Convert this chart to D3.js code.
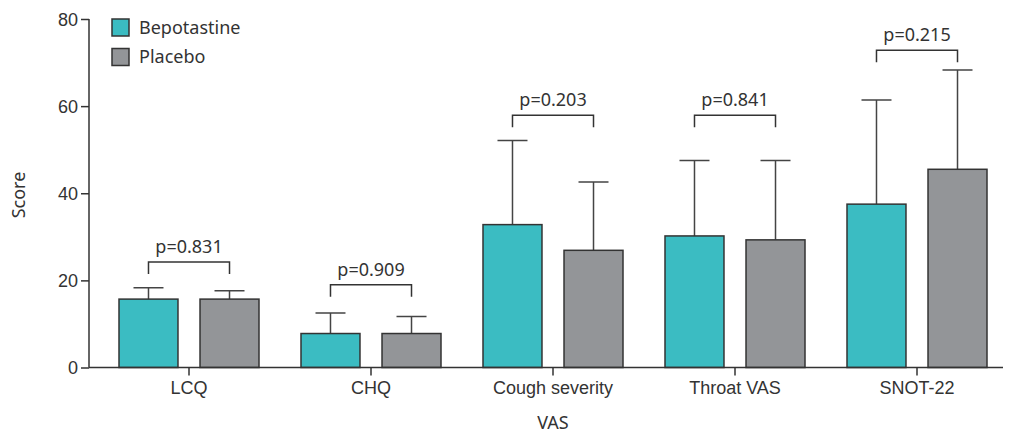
<!DOCTYPE html>
<html>
<head>
<meta charset="utf-8">
<script src="https://cdn.jsdelivr.net/npm/d3@7"></script>
<style>
  body { margin: 0; background: #fff; }
  svg { display: block; font-family: "Noto Sans", "Open Sans", sans-serif; }
</style>
</head>
<body>
<div id="chart"></div>
<script>
const categories = ['LCQ', 'CHQ', 'Cough severity', 'Throat VAS', 'SNOT-22'];
const groups = ['Bepotastine', 'Placebo'];
const bepotastineMean = [15.7, 7.8, 32.8, 30.2, 37.5];
const bepotastineSD = [2.6, 4.7, 19.3, 17.3, 23.9];
const placeboMean = [15.7, 7.8, 26.9, 29.3, 45.5];
const placeboSD = [1.9, 3.9, 15.7, 18.2, 22.8];
const pValues = ['p=0.831', 'p=0.909', 'p=0.203', 'p=0.841', 'p=0.215'];
const bracketLevel = [24.2, 19.0, 57.9, 57.9, 72.8];
const yTicks = [0, 20, 40, 60, 80];

const colors = { Bepotastine: '#3bbcc2', Placebo: '#939598' };
const ink = '#333333';

const width = 1009, height = 434;
const svg = d3.select('#chart').append('svg')
  .attr('width', width)
  .attr('height', height);

const y = d3.scaleLinear().domain([0, 80]).range([367.5, 19]);
const x = d3.scaleBand().domain(categories).range([98, 1008]);
const xs = d3.scaleBand().domain(groups).range([21, 161]).paddingInner(0.272);

const rows = categories.map((c, i) => ({
  cat: c,
  p: pValues[i],
  bracket: bracketLevel[i],
  bars: [
    { g: 'Bepotastine', mean: bepotastineMean[i], sd: bepotastineSD[i] },
    { g: 'Placebo', mean: placeboMean[i], sd: placeboSD[i] }
  ]
}));

// y axis
const yAxis = svg.append('g')
  .attr('transform', 'translate(89,0)')
  .call(d3.axisLeft(y).tickValues(yTicks).tickSize(8).tickSizeOuter(0).tickPadding(3));
yAxis.select('.domain').remove();
yAxis.selectAll('.tick line').attr('stroke', ink).attr('stroke-width', 1.5);
yAxis.selectAll('.tick text').attr('fill', ink).style('font-size', '18px').attr('dy', '0.34em');
svg.append('line')
  .attr('x1', 89).attr('x2', 89)
  .attr('y1', y(80)).attr('y2', y(0))
  .attr('stroke', ink).attr('stroke-width', 1.5);

// bars
const groupSel = svg.selectAll('g.cat')
  .data(rows)
  .enter().append('g')
  .attr('class', 'cat')
  .attr('transform', d => `translate(${x(d.cat)},0)`);

// error bars (upper only), drawn under the bars
groupSel.selectAll('path.err')
  .data(d => d.bars)
  .enter().append('path')
  .attr('class', 'err')
  .attr('fill', 'none')
  .attr('stroke', '#444')
  .attr('stroke-width', 1.5)
  .attr('d', d => {
    const cx = xs(d.g) + xs.bandwidth() / 2;
    const top = y(d.mean + d.sd);
    return `M${cx},${y(d.mean)}V${top}M${cx - 15},${top}H${cx + 15}`;
  });

groupSel.selectAll('rect')
  .data(d => d.bars)
  .enter().append('rect')
  .attr('x', d => xs(d.g))
  .attr('width', xs.bandwidth())
  .attr('y', d => y(d.mean))
  .attr('height', d => y(0) - y(d.mean))
  .attr('fill', d => colors[d.g])
  .attr('stroke', ink)
  .attr('stroke-width', 1.5);

// significance brackets
groupSel.append('path')
  .attr('fill', 'none')
  .attr('stroke', ink)
  .attr('stroke-width', 1.5)
  .attr('d', d => {
    const a = xs('Bepotastine') + xs.bandwidth() / 2;
    const b = xs('Placebo') + xs.bandwidth() / 2;
    const by = y(d.bracket);
    return `M${a},${by + 12}V${by}H${b}V${by + 12}`;
  });

groupSel.append('text')
  .attr('x', (xs('Bepotastine') + xs('Placebo') + xs.bandwidth()) / 2)
  .attr('y', d => y(d.bracket) - 9)
  .attr('text-anchor', 'middle')
  .attr('fill', ink)
  .style('font-size', '18px')
  .text(d => d.p);

// x axis
svg.append('line')
  .attr('x1', 89).attr('x2', 1003)
  .attr('y1', y(0)).attr('y2', y(0))
  .attr('stroke', ink).attr('stroke-width', 1.5);
const xAxis = svg.append('g')
  .attr('transform', `translate(0,${y(0)})`)
  .call(d3.axisBottom(x).tickSize(8).tickSizeOuter(0).tickPadding(6));
xAxis.select('.domain').remove();
xAxis.selectAll('.tick line').attr('stroke', ink).attr('stroke-width', 1.5);
xAxis.selectAll('.tick text').attr('fill', ink).style('font-size', '18px');

// axis titles
svg.append('text')
  .attr('transform', 'translate(25,195) rotate(-90)')
  .attr('text-anchor', 'middle')
  .attr('fill', ink)
  .style('font-size', '18px')
  .text('Score');
svg.append('text')
  .attr('x', 553).attr('y', 429)
  .attr('text-anchor', 'middle')
  .attr('fill', ink)
  .style('font-size', '18px')
  .text('VAS');

// legend
const legend = svg.selectAll('g.legend')
  .data(groups)
  .enter().append('g')
  .attr('class', 'legend')
  .attr('transform', (d, i) => `translate(112,${19 + i * 29.5})`);
legend.append('rect')
  .attr('width', 17).attr('height', 17)
  .attr('fill', d => colors[d])
  .attr('stroke', ink)
  .attr('stroke-width', 1.5);
legend.append('text')
  .attr('x', 27).attr('y', 8.5)
  .attr('dy', '0.35em')
  .attr('fill', ink)
  .style('font-size', '18px')
  .text(d => d);
</script>
</body>
</html>
